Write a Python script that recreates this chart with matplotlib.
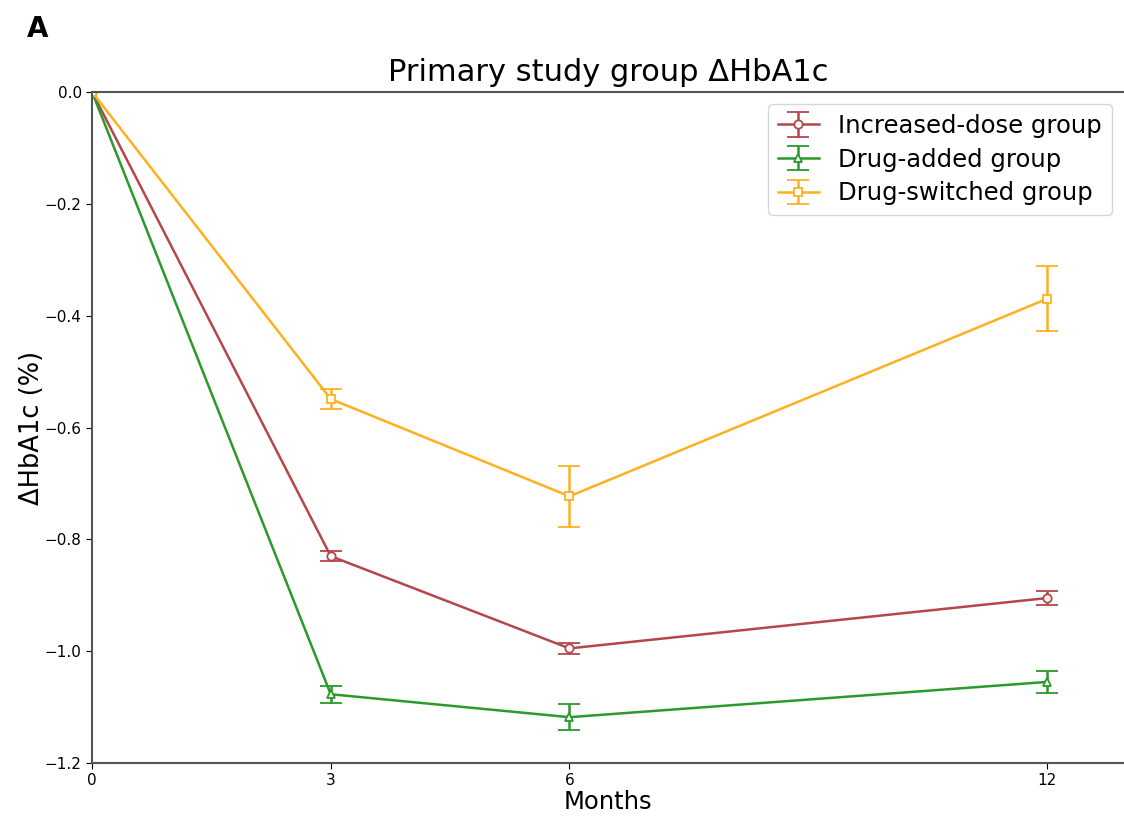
import matplotlib
matplotlib.use('Agg')
import matplotlib.pyplot as plt

months = [0, 3, 6, 12]

inc_dose = [0.0, -0.830, -0.995, -0.905]
inc_dose_err = [0.0, 0.009, 0.010, 0.012]

drug_added = [0.0, -1.077, -1.118, -1.055]
drug_added_err = [0.0, 0.015, 0.023, 0.020]

drug_switched = [0.0, -0.549, -0.723, -0.370]
drug_switched_err = [0.0, 0.018, 0.055, 0.058]

labels = ['Increased-dose group', 'Drug-added group', 'Drug-switched group']
colors = ['#b5474b', '#2a9a2a', '#ffb020']
markers = ['o', '^', 's']

fig = plt.figure(figsize=(11.24, 8.18), dpi=100)
ax = fig.add_axes([0.0819, 0.0672, 0.9181, 0.8203])

series = [(inc_dose, inc_dose_err), (drug_added, drug_added_err), (drug_switched, drug_switched_err)]
for (vals, errs), lab, c, m in zip(series, labels, colors, markers):
    ax.errorbar(months, vals, yerr=errs, label=lab, color=c, marker=m,
                markerfacecolor='white', markeredgecolor=c, markersize=6,
                markeredgewidth=1.3, linewidth=1.8, elinewidth=1.8,
                capsize=8, capthick=1.8)

ax.set_xlim(0, 12.97)
ax.set_ylim(-1.2, 0.0)
ax.set_xticks(months)
ax.set_yticks([0.0, -0.2, -0.4, -0.6, -0.8, -1.0, -1.2])
ax.tick_params(labelsize=11, length=4)
ax.spines['right'].set_visible(False)
for s in ['left', 'top', 'bottom']:
    ax.spines[s].set_color('#555555')
    ax.spines[s].set_linewidth(1.5)

ax.set_title('Primary study group ΔHbA1c', fontsize=22, pad=8)
ax.set_xlabel('Months', fontsize=17.5, labelpad=1)
ax.set_ylabel('ΔHbA1c (%)', fontsize=18.5, labelpad=0)
ax.legend(loc='upper right', fontsize=17.5, handlelength=1.7,
          borderaxespad=0.5, labelspacing=0.4)

fig.text(0.024, 0.965, 'A', fontsize=20, fontweight='bold', va='center')

fig.savefig('out.png', dpi=100)
